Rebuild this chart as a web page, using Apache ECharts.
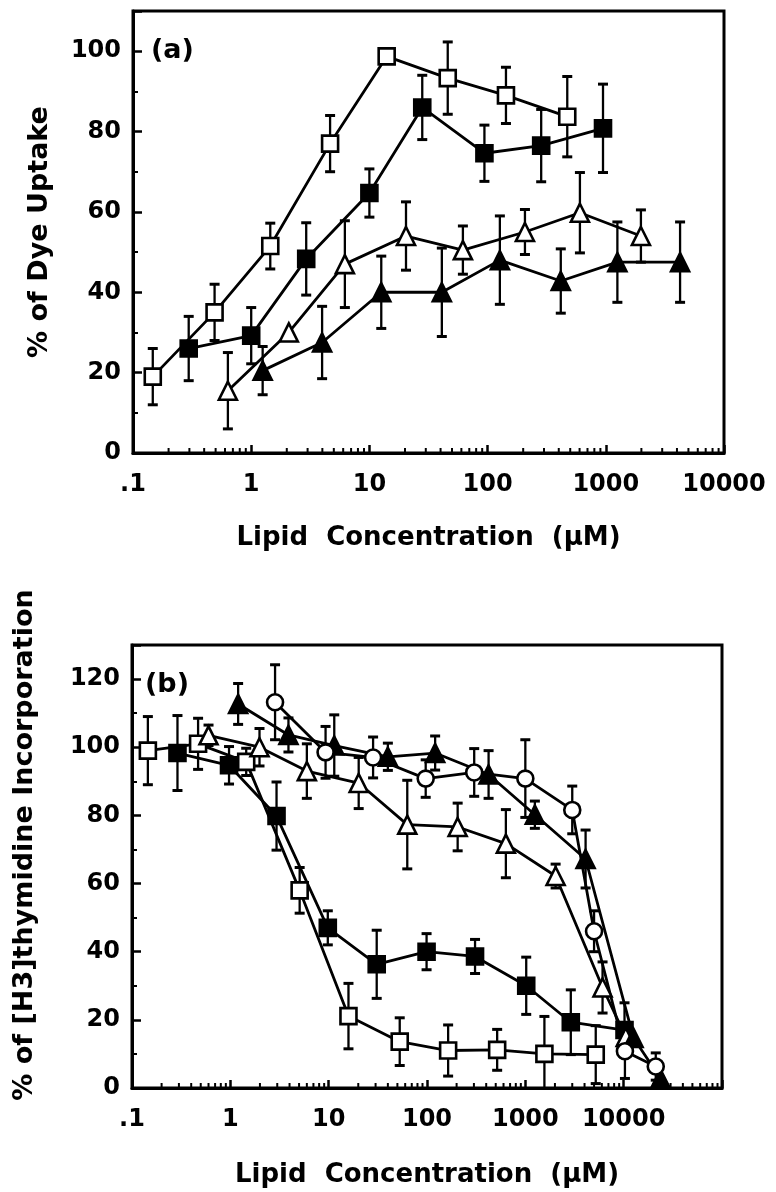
<!DOCTYPE html>
<html>
<head>
<meta charset="utf-8">
<script src="https://cdn.jsdelivr.net/npm/echarts@6/dist/echarts.min.js"></script>
<style>
html, body { margin: 0; padding: 0; background: #fff; }
#main { width: 776px; height: 1192px; }
</style>
</head>
<body>
<div id="main"></div>
<script>
var FONT = 'DejaVu Sans';

// ---- panel (a): % of dye uptake ----
var aOpenSqX = [0.147, 0.49, 1.45, 4.65, 14, 46, 143, 472];
var aOpenSqY = [19, 35, 51.5, 77, 98.7, 93.3, 89, 83.7];
var aOpenSqE = [7, 7, 5.7, 7, 0, 9, 7, 10];

var aFillSqX = [0.296, 1.0, 2.92, 10, 28, 94, 284, 947];
var aFillSqY = [26, 29.2, 48.3, 64.7, 86, 74.6, 76.5, 80.8];
var aFillSqE = [8, 7, 9, 6, 8, 7, 9, 11];

var aOpenTriX = [0.635, 2.08, 6.2, 20.4, 61.8, 207, 604, 1982];
var aOpenTriY = [15.5, 30, 47, 54, 50.5, 55, 59.8, 54];
var aOpenTriE = [9.5, 0, 10.8, 8.5, 6, 5.6, 10, 6.5];

var aFillTriX = [1.25, 3.98, 12.6, 41, 127, 416, 1253, 4250];
var aFillTriY = [20.5, 27.5, 40, 40, 48, 42.8, 47.5, 47.5];
var aFillTriE = [6, 9, 9, 11, 11, 8, 10, 10];

// ---- panel (b): % of [H3]thymidine incorporation ----
var bOpenSqX = [0.145, 0.47, 1.45, 5.07, 15.9, 52.8, 164, 517, 1563, 5200];
var bOpenSqY = [99, 101, 95.7, 58, 21.1, 13.6, 11, 11.2, 10, 9.8];
var bOpenSqE = [10, 7.5, 4, 6.7, 9.6, 7, 7.5, 6, 11, 8.5];

var bFillSqX = [0.29, 0.97, 2.95, 9.8, 30.8, 99, 308, 1021, 2900, 10200];
var bFillSqY = [98.3, 94.7, 79.8, 47, 36.3, 40, 38.6, 30, 19.3, 17];
var bFillSqE = [11, 5.5, 10, 5, 10, 5.3, 5, 8.4, 9.5, 8];

var bOpenTriX = [0.6, 1.98, 6.0, 20.2, 63, 205, 634, 2032, 6100, 10500];
var bOpenTriY = [103.5, 100, 93, 89.5, 77.3, 76.6, 71.7, 62.2, 29.5, 15];
var bOpenTriE = [3, 5.5, 8, 7.5, 13, 7, 10, 3.5, 7.5, 0];

var bFillTriX = [1.2, 3.9, 11.4, 40, 121, 423, 1250, 4100, 12600, 23700];
var bFillTriY = [112.7, 103.6, 100.5, 97.2, 98.3, 92, 80.2, 67.2, 14.7, 2.8];
var bFillTriE = [6, 5, 9, 4, 5, 7, 4, 8.5, 0, 0];

var bCircX = [2.85, 9.3, 28.3, 97, 302, 1000, 3000, 5000, 10300, 21200];
var bCircY = [113.2, 98.5, 97, 90.8, 92.6, 90.8, 81.6, 46, 10.8, 6.3];
var bCircE = [11, 7.6, 6, 5.5, 7, 11.4, 7, 6, 8, 4];

// minor ticks of the log axes at 2..9 of each decade
function minorTicks(fromExp, toExp) {
    var out = [];
    for (var d = fromExp; d < toExp; d++) {
        for (var k = 2; k <= 9; k++) out.push([k * Math.pow(10, d), 0]);
    }
    return out;
}
var aMinor = minorTicks(-1, 4);
var bMinor = minorTicks(-1, 5);

function pts(xs, ys, es) {
    return xs.map(function (x, i) { return es ? [x, ys[i], es[i]] : [x, ys[i]]; });
}

function errRender(params, api) {
    var x = api.value(0), y = api.value(1), e = api.value(2);
    if (!e) return { type: 'group', children: [] };
    var hi = api.coord([x, y + e]);
    var lo = api.coord([x, Math.max(y - e, 0)]);
    var cw = 5;
    var kids = [
        { type: 'line', shape: { x1: hi[0], y1: hi[1], x2: lo[0], y2: lo[1] }, style: { stroke: '#000', lineWidth: 2.3 } },
        { type: 'line', shape: { x1: hi[0] - cw, y1: hi[1], x2: hi[0] + cw, y2: hi[1] }, style: { stroke: '#000', lineWidth: 3 } }
    ];
    if (y - e > 0) {
        kids.push({ type: 'line', shape: { x1: lo[0] - cw, y1: lo[1], x2: lo[0] + cw, y2: lo[1] }, style: { stroke: '#000', lineWidth: 3 } });
    }
    return { type: 'group', children: kids };
}

function tickRender(params, api) {
    var p = api.coord([api.value(0), api.value(1)]);
    return { type: 'line', shape: { x1: p[0], y1: p[1], x2: p[0], y2: p[1] - 5 }, style: { stroke: '#000', lineWidth: 2 } };
}

function markerSeries(xs, ys, sym, filled, gi) {
    return {
        type: 'line', xAxisIndex: gi, yAxisIndex: gi, z: 3,
        data: pts(xs, ys),
        symbol: sym, symbolSize: sym === 'triangle' ? 18 : 16,
        lineStyle: { color: '#000', width: 2.8 },
        itemStyle: { color: filled ? '#000' : '#fff', borderColor: '#000', borderWidth: 2.6 },
        emphasis: { disabled: true }
    };
}

function errSeries(xs, ys, es, gi) {
    return {
        type: 'custom', xAxisIndex: gi, yAxisIndex: gi, z: 2,
        renderItem: errRender, encode: { x: 0, y: 1 },
        data: pts(xs, ys, es)
    };
}

function xAxisCfg(gi, max, gap) {
    return {
        type: 'log', logBase: 10, gridIndex: gi, min: 0.1, max: max,
        splitNumber: gi === 0 ? 5 : 6,
        axisLine: { show: true, lineStyle: { color: '#000', width: 3 } },
        axisTick: { inside: true, length: 8, lineStyle: { color: '#000', width: 2.5 } },
        splitLine: { show: false },
        axisLabel: {
            margin: 20, fontSize: 24, fontWeight: 'bold', fontFamily: FONT, color: '#000',
            formatter: function (v) {
                if (v < 0.5) return '.1';
                if (v > 50000) return '';
                return String(Math.round(v));
            }
        },
        name: 'Lipid  Concentration  (\u00b5M)', nameLocation: 'middle', nameGap: gap,
        nameTextStyle: { fontSize: 26, fontWeight: 'bold', fontFamily: FONT, color: '#000' }
    };
}

function yAxisCfg(gi, max) {
    return {
        type: 'value', gridIndex: gi, min: 0, max: max, interval: 20,
        axisLine: { show: true, lineStyle: { color: '#000', width: 3 } },
        axisTick: { inside: true, length: 9, lineStyle: { color: '#000', width: 2.5 } },
        minorTick: { show: true, splitNumber: 2, length: 5, lineStyle: { color: '#000', width: 2 } },
        splitLine: { show: false },
        axisLabel: {
            margin: 12, fontSize: 24, fontWeight: 'bold', fontFamily: FONT, color: '#000',
            formatter: function (v) { return v % 20 === 0 ? String(v) : ''; }
        }
    };
}

var chart = echarts.init(document.getElementById('main'), null, { renderer: 'canvas' });

var option = {
    animation: false,
    backgroundColor: '#fff',
    grid: [
        { left: 133, right: 52, top: 11, height: 442, show: true, borderColor: '#000', borderWidth: 3 },
        { left: 132, right: 54, top: 645, height: 443, show: true, borderColor: '#000', borderWidth: 3 }
    ],
    xAxis: [xAxisCfg(0, 10000, 72), xAxisCfg(1, 100000, 74)],
    yAxis: [yAxisCfg(0, 110), yAxisCfg(1, 130)],
    graphic: [
        { type: 'text', x: 151, y: 37, style: { text: '(a)', fontSize: 27, fontWeight: 'bold', fontFamily: FONT, fill: '#000' } },
        { type: 'text', x: 145, y: 671, style: { text: '(b)', fontSize: 27, fontWeight: 'bold', fontFamily: FONT, fill: '#000' } },
        { type: 'text', x: 40, y: 232, rotation: Math.PI / 2,
          style: { text: '% of Dye Uptake', fontSize: 27, fontWeight: 'bold', fontFamily: FONT, fill: '#000',
                   align: 'center', verticalAlign: 'middle', textAlign: 'center', textVerticalAlign: 'middle' } },
        { type: 'text', x: 25, y: 845, rotation: Math.PI / 2,
          style: { text: '% of [H3]thymidine Incorporation', fontSize: 27, fontWeight: 'bold', fontFamily: FONT, fill: '#000',
                   align: 'center', verticalAlign: 'middle', textAlign: 'center', textVerticalAlign: 'middle' } }
    ],
    series: [
        { type: 'custom', xAxisIndex: 0, yAxisIndex: 0, z: 4, renderItem: tickRender, encode: { x: 0, y: 1 }, data: aMinor, silent: true },
        { type: 'custom', xAxisIndex: 1, yAxisIndex: 1, z: 4, renderItem: tickRender, encode: { x: 0, y: 1 }, data: bMinor, silent: true },

        errSeries(aOpenSqX, aOpenSqY, aOpenSqE, 0),
        errSeries(aFillSqX, aFillSqY, aFillSqE, 0),
        errSeries(aOpenTriX, aOpenTriY, aOpenTriE, 0),
        errSeries(aFillTriX, aFillTriY, aFillTriE, 0),
        markerSeries(aOpenSqX, aOpenSqY, 'rect', false, 0),
        markerSeries(aFillSqX, aFillSqY, 'rect', true, 0),
        markerSeries(aOpenTriX, aOpenTriY, 'triangle', false, 0),
        markerSeries(aFillTriX, aFillTriY, 'triangle', true, 0),

        errSeries(bOpenSqX, bOpenSqY, bOpenSqE, 1),
        errSeries(bFillSqX, bFillSqY, bFillSqE, 1),
        errSeries(bOpenTriX, bOpenTriY, bOpenTriE, 1),
        errSeries(bFillTriX, bFillTriY, bFillTriE, 1),
        errSeries(bCircX, bCircY, bCircE, 1),
        markerSeries(bOpenSqX, bOpenSqY, 'rect', false, 1),
        markerSeries(bFillSqX, bFillSqY, 'rect', true, 1),
        markerSeries(bOpenTriX, bOpenTriY, 'triangle', false, 1),
        markerSeries(bFillTriX, bFillTriY, 'triangle', true, 1),
        markerSeries(bCircX, bCircY, 'circle', false, 1)
    ]
};

chart.setOption(option);
</script>
</body>
</html>
